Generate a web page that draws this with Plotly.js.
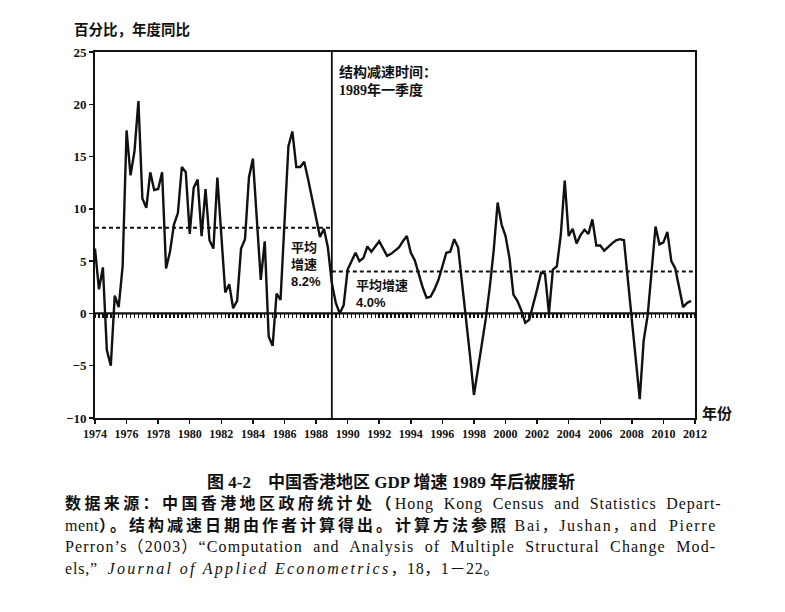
<!DOCTYPE html>
<html>
<head>
<meta charset="utf-8">
<script src="https://cdn.plot.ly/plotly-3.0.1.min.js"></script>
<style>
  html, body { margin: 0; padding: 0; background: #fff; }
  #chart { width: 785px; height: 612px; }
</style>
</head>
<body>
<div id="chart"></div>
<script>
// ---------- data (quarterly, year-on-year %) ----------
const startYear = 1974;
const growth = [
  // 1974 - 1981
  6.2, 2.3, 4.4, -3.5,
  -5.0, 1.7, 0.6, 4.5,
  17.5, 13.2, 15.5, 20.3,
  11.0, 10.1, 13.5, 11.8,
  11.9, 13.5, 4.3, 5.9,
  8.5, 9.6, 14.0, 13.5,
  7.6, 12.0, 12.8, 7.4,
  11.9, 7.0, 6.2, 13.0,
  // 1982 - 1989
  7.5, 2.0, 2.8, 0.5,
  1.2, 6.2, 7.1, 13.0,
  14.8, 8.5, 3.2, 6.9,
  -2.2, -3.1, 1.9, 1.3,
  9.0, 16.0, 17.4, 14.0,
  14.0, 14.5, 12.8, 11.0,
  9.3, 7.3, 8.1, 6.3,
  2.9, 1.0, 0.0, 0.8,
  // 1990 - 1997
  4.2, 5.0, 5.8, 5.0,
  5.3, 6.4, 5.9, 6.4,
  6.9, 6.2, 5.5, 5.7,
  6.0, 6.3, 6.9, 7.4,
  5.8, 5.1, 3.8, 2.5,
  1.5, 1.6, 2.3, 3.2,
  4.5, 5.8, 5.9, 7.1,
  6.3, 3.0, -0.2, -4.0,
  // 1998 - 2005
  -7.8, -5.5, -3.0, -0.5,
  2.5, 6.0, 10.6, 8.5,
  7.4, 5.3, 1.8, 1.2,
  0.3, -0.9, -0.6, 0.8,
  2.3, 3.9, 3.8, 0.0,
  4.2, 4.5, 7.5, 12.7,
  7.4, 8.1, 6.7, 7.5,
  8.0, 7.6, 9.0, 6.5,
  // 2006 - 2011
  6.5, 6.0, 6.4, 6.7,
  7.0, 7.1, 7.0, 3.2,
  -0.5, -4.5, -8.2, -2.6,
  -0.2, 4.0, 8.3, 6.6,
  6.8, 7.8, 5.0, 4.3,
  2.5, 0.6, 1.0, 1.2
];
const quarters = growth.map((_, i) => startYear + i / 4);

const breakYear = 1989;      // structural break, 1989 Q1
const meanBefore = 8.2;      // average growth before the break
const meanAfter = 4.0;       // average growth after the break
const xRange = [1974, 2012];
const yRange = [-10, 25];
const xTickVals = [1974,1976,1978,1980,1982,1984,1986,1988,1990,1992,1994,1996,1998,2000,2002,2004,2006,2008,2010,2012];
const yTickVals = [-10, -5, 0, 5, 10, 15, 20, 25];

// ---------- texts ----------
const yTitle = '百分比，年度同比';
const xTitle = '年份';
const breakNote = '结构减速时间：<br>1989年一季度';
const meanBeforeNote = '平均<br>增速<br>8.2%';
const meanAfterNote = '平均增速<br>4.0%';
const figTitle = '图 4-2　中国香港地区 GDP 增速 1989 年后被腰斩';
const cj = (s, ls) => '<span style="letter-spacing:' + ls + 'px"><b>' + s + '</b></span>';
const la = (s, ls) => '<span style="letter-spacing:' + ls + 'px">' + s + '</span>';
const it = (s, ls) => '<span style="letter-spacing:' + ls + 'px"><i>' + s + '</i></span>';
const noteLines = [
  cj('数据来源：中国香港地区政府统计处（', 3.4) + la('Hong  Kong  Census  and  Statistics  Depart-', 0.9),
  la('ment', 0.5) + cj('）。结构减速日期由作者计算得出。计算方法参照', 3.0) + la(' Bai，Jushan，and  Pierre', 1.6),
  la('Perron’s（2003）“Computation  and  Analysis  of  Multiple  Structural  Change  Mod-', 1.15),
  la('els,”  ', 0.8) + it('Journal of Applied Econometrics', 2.3) + la('，18，1－22。', 0.6)
];

// ---------- geometry helpers (plot area 95..695 x 52..418 px) ----------
const L = 95, R = 90, T = 52, B = 194, W = 785, H = 612;
const PW = W - L - R, PH = H - T - B;
const px = x => (x - L) / PW;
const py = y => (H - B - y) / PH;

const serifCJK = "'Liberation Serif', 'Noto Sans CJK SC', serif";
const sansCJK = "'Liberation Sans', 'Noto Sans CJK SC', sans-serif";

const traces = [
  {
    x: quarters, y: growth, type: 'scatter', mode: 'lines',
    line: { color: '#111', width: 2.4 }, hoverinfo: 'skip', showlegend: false
  },
  {
    x: [xRange[0], breakYear], y: [meanBefore, meanBefore], type: 'scatter', mode: 'lines',
    line: { color: '#111', width: 2, dash: '4px,3px' }, hoverinfo: 'skip', showlegend: false
  },
  {
    x: [breakYear, xRange[1]], y: [meanAfter, meanAfter], type: 'scatter', mode: 'lines',
    line: { color: '#111', width: 2, dash: '4px,3px' }, hoverinfo: 'skip', showlegend: false
  },
  {
    x: [breakYear, breakYear], y: yRange, type: 'scatter', mode: 'lines',
    line: { color: '#111', width: 1.8 }, hoverinfo: 'skip', showlegend: false
  },
  {
    x: xRange, y: [0, 0], type: 'scatter', mode: 'lines', xaxis: 'x2', yaxis: 'y',
    line: { color: '#111', width: 2.2 }, hoverinfo: 'skip', showlegend: false
  }
];

const tickFont = { family: "'Liberation Serif', serif", size: 13, color: '#111', weight: 'bold' };

const layout = {
  width: W, height: H,
  margin: { l: L, r: R, t: T, b: B, pad: 0 },
  paper_bgcolor: '#fff', plot_bgcolor: '#fff',
  showlegend: false,
  title: {
    text: figTitle, xref: 'container', x: 391 / W, xanchor: 'center',
    yref: 'container', y: 1 - 482 / H, yanchor: 'middle',
    font: { family: serifCJK, size: 17, color: '#111', weight: 'bold' }
  },
  xaxis: {
    range: xRange, tickvals: xTickVals, ticktext: xTickVals.map(String),
    showgrid: false, zeroline: false,
    showline: true, linecolor: '#111', linewidth: 2, mirror: true,
    ticks: 'outside', ticklen: 4, tickwidth: 1.5, tickcolor: '#111',
    tickfont: { family: "'Liberation Serif', serif", size: 12, color: '#111', weight: 'bold' },
    fixedrange: true
  },
  xaxis2: {
    range: xRange, overlaying: 'x', anchor: 'free', position: (0 - yRange[0]) / (yRange[1] - yRange[0]),
    side: 'bottom', showgrid: false, zeroline: false, showline: false,
    ticks: 'outside', dtick: 0.25, tick0: xRange[0], ticklen: 4, tickwidth: 1.5, tickcolor: '#111',
    showticklabels: false, fixedrange: true
  },
  yaxis: {
    range: yRange, tickvals: yTickVals, ticktext: yTickVals.map(v => v < 0 ? '−' + Math.abs(v) : String(v)),
    showgrid: false, zeroline: false,
    showline: true, linecolor: '#111', linewidth: 2, mirror: true,
    ticks: 'outside', ticklen: 4, tickwidth: 1.5, tickcolor: '#111',
    tickfont: tickFont, fixedrange: true
  },
  annotations: [
    { text: '<b>' + yTitle + '</b>', xref: 'paper', yref: 'paper', x: px(72), y: py(30),
      xanchor: 'left', yanchor: 'middle', showarrow: false,
      font: { family: sansCJK, size: 14.5, color: '#111' } },
    { text: '<b>' + xTitle + '</b>', xref: 'paper', yref: 'paper', x: px(700), y: py(413),
      xanchor: 'left', yanchor: 'middle', showarrow: false,
      font: { family: sansCJK, size: 15, color: '#111' } },
    { text: '<b>' + breakNote + '</b>', xref: 'paper', yref: 'paper', x: px(337), y: py(62),
      xanchor: 'left', yanchor: 'top', align: 'left', showarrow: false,
      font: { family: serifCJK, size: 14, color: '#111' } },
    { text: '<b>' + meanBeforeNote + '</b>', xref: 'paper', yref: 'paper', x: px(289), y: py(238),
      xanchor: 'left', yanchor: 'top', align: 'left', showarrow: false,
      font: { family: sansCJK, size: 13, color: '#111' } },
    { text: '<b>' + meanAfterNote + '</b>', xref: 'paper', yref: 'paper', x: px(354), y: py(276),
      xanchor: 'left', yanchor: 'top', align: 'left', showarrow: false,
      font: { family: sansCJK, size: 13, color: '#111' } }
  ].concat(noteLines.map((t, k) => ({
    text: t, xref: 'paper', yref: 'paper', x: px(63), y: py(503 + 22 * k),
    xanchor: 'left', yanchor: 'middle', align: 'left', showarrow: false,
    font: { family: serifCJK, size: 16, color: '#111' }
  })))
};

Plotly.newPlot('chart', traces, layout, { staticPlot: true, displayModeBar: false });
</script>
</body>
</html>
